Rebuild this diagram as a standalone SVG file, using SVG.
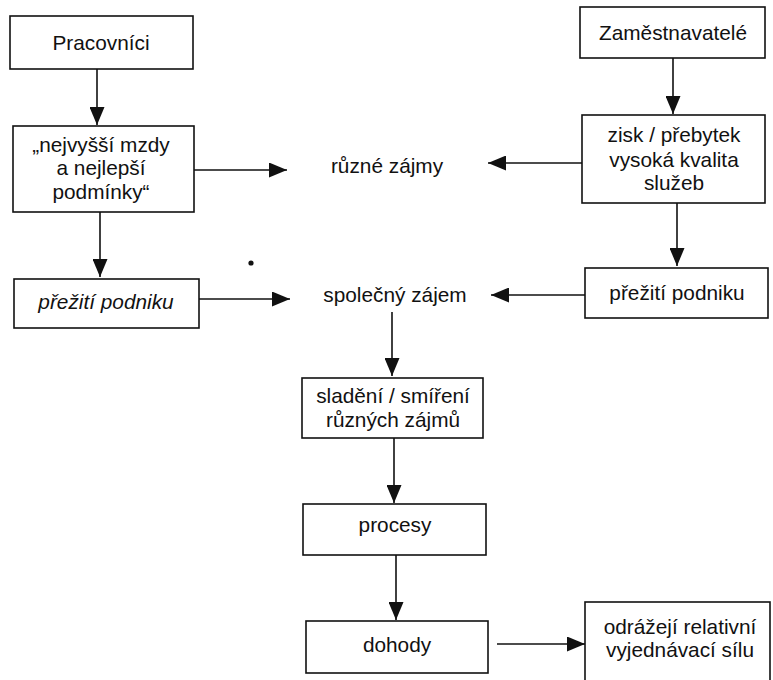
<svg xmlns="http://www.w3.org/2000/svg" width="773" height="680" viewBox="0 0 773 680">
<style>
.box{fill:#fff;stroke:#111;stroke-width:1.6}
.t{font-family:"Liberation Sans",Arial,sans-serif;font-size:20.8px;fill:#111;text-anchor:middle}
.i{font-style:italic}
.c{stroke:#111;stroke-width:1.6;fill:none;marker-end:url(#ah)}
</style>
<defs>
<marker id="ah" viewBox="0 0 18 15" refX="18" refY="7.5" markerWidth="18" markerHeight="15" markerUnits="userSpaceOnUse" orient="auto">
<path d="M0,0 L18,7.5 L0,15 z" fill="#111"/>
</marker>
</defs>
<rect width="773" height="680" fill="#fff"/>
<g id="pracovnici"><rect class="box" x="10" y="16" width="183" height="53"/><text class="t" x="101" y="50">Pracovníci</text></g>
<g id="mzdy"><rect class="box" x="13" y="126" width="181" height="86"/><text class="t" x="101" y="152">„nejvyšší mzdy</text><text class="t" x="101" y="175">a nejlepší</text><text class="t" x="101" y="199">podmínky“</text></g>
<g id="prezitiL"><rect class="box" x="14" y="279" width="185" height="49"/><text class="t i" x="106" y="309">přežití podniku</text></g>
<g id="zamestnavatele"><rect class="box" x="580" y="7" width="185" height="51"/><text class="t" x="673" y="40">Zaměstnavatelé</text></g>
<g id="zisk"><rect class="box" x="582" y="115" width="183" height="88"/><text class="t" x="674" y="142">zisk / přebytek</text><text class="t" x="674" y="167">vysoká kvalita</text><text class="t" x="674" y="190">služeb</text></g>
<g id="prezitiR"><rect class="box" x="585" y="268" width="183" height="50"/><text class="t" x="677" y="300">přežití podniku</text></g>
<g id="ruzne"><text class="t" x="387" y="173">různé zájmy</text></g>
<g id="spolecny"><text class="t" x="395" y="302">společný zájem</text></g>
<g id="sladeni"><rect class="box" x="302" y="378" width="181" height="60"/><text class="t" x="393" y="403">sladění / smíření</text><text class="t" x="393" y="427">různých zájmů</text></g>
<g id="procesy"><rect class="box" x="303" y="504" width="183" height="51"/><text class="t" x="395" y="532">procesy</text></g>
<g id="dohody"><rect class="box" x="306" y="621" width="182" height="52"/><text class="t" x="397" y="652">dohody</text></g>
<g id="odrazeji"><rect class="box" x="585" y="602" width="185" height="100"/><text class="t" x="680" y="634">odrážejí relativní</text><text class="t" x="680" y="657">vyjednávací sílu</text></g>
<g id="connectors">
<line class="c" x1="97" y1="69" x2="97" y2="125"/>
<line class="c" x1="194" y1="170" x2="287" y2="170"/>
<line class="c" x1="100" y1="212" x2="100" y2="277"/>
<line class="c" x1="199" y1="299" x2="290" y2="299"/>
<line class="c" x1="673" y1="58" x2="673" y2="114"/>
<line class="c" x1="582" y1="163" x2="488" y2="163"/>
<line class="c" x1="677" y1="203" x2="677" y2="266"/>
<line class="c" x1="585" y1="295" x2="491" y2="295"/>
<line class="c" x1="392" y1="312" x2="392" y2="376"/>
<line class="c" x1="394" y1="438" x2="394" y2="503"/>
<line class="c" x1="396" y1="555" x2="396" y2="620"/>
<line class="c" x1="497" y1="644" x2="585" y2="644"/>
</g>
<circle cx="251" cy="263" r="2.6" fill="#111"/>
</svg>
